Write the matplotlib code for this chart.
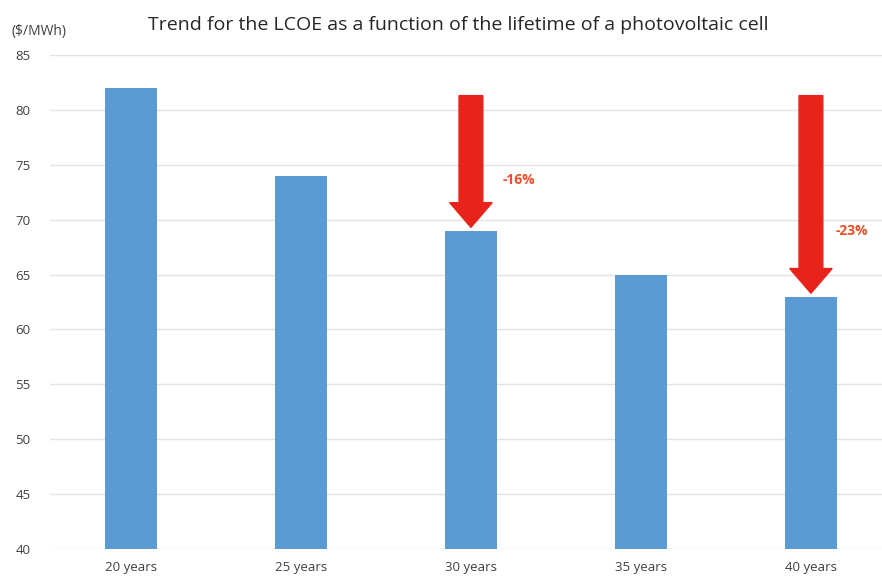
import matplotlib
matplotlib.use("Agg")
import matplotlib.pyplot as plt
from matplotlib.patches import FancyArrow

plt.rcParams['font.family'] = ['Open Sans', 'DejaVu Sans']

categories = ["20 years", "25 years", "30 years", "35 years", "40 years"]
lcoe = [82, 74, 69, 65, 63]
yticks = [40, 45, 50, 55, 60, 65, 70, 75, 80, 85]

# Reduction arrows: bar index, arrow start value, label
arrow_idx = [2, 4]
arrow_top = [81.3, 81.3]
arrow_labels = ["-16%", "-23%"]
label_pos = [(2.28, 73.6), (4.24, 69.0)]

fig = plt.figure(figsize=(8.82, 5.77), dpi=100)
ax = fig.add_axes([50/882, 28/577, 832/882, 494/577])

x = list(range(len(categories)))
ax.bar(x, [v - 40 for v in lcoe], bottom=40, width=0.31, color="#5B9BD5", zorder=3)

ax.set_xlim(-0.476, 4.418)
ax.set_ylim(40, 85)
ax.set_yticks(yticks)
ax.set_xticks(x)
ax.set_xticklabels(categories)
ax.tick_params(axis="both", length=0, labelsize=9.5, colors="#404040")
ax.tick_params(axis="y", pad=14)
ax.tick_params(axis="x", pad=9)
ax.grid(axis="y", color="#E3E3E3", linewidth=1, zorder=0)
for s in ax.spines.values():
    s.set_visible(False)

for i, top, lab, (tx, ty) in zip(arrow_idx, arrow_top, arrow_labels, label_pos):
    tip = lcoe[i] + 0.3
    arr = FancyArrow(i, top, 0, tip - top, width=0.14, head_width=0.25,
                     head_length=2.25, length_includes_head=True,
                     color="#E8231B", zorder=4)
    ax.add_patch(arr)
    ax.text(tx, ty, lab, color="#E8502A", fontsize=10, fontweight="bold",
            ha="center", va="center")

fig.text(458/882, 1 - 25/577, "Trend for the LCOE as a function of the lifetime of a photovoltaic cell",
         ha="center", va="center", fontsize=14, color="#262626")
fig.text(12/882, 1 - 31/577, "($/MWh)", ha="left", va="center", fontsize=10, color="#404040")

fig.savefig("out.png", dpi=100, facecolor="white")
